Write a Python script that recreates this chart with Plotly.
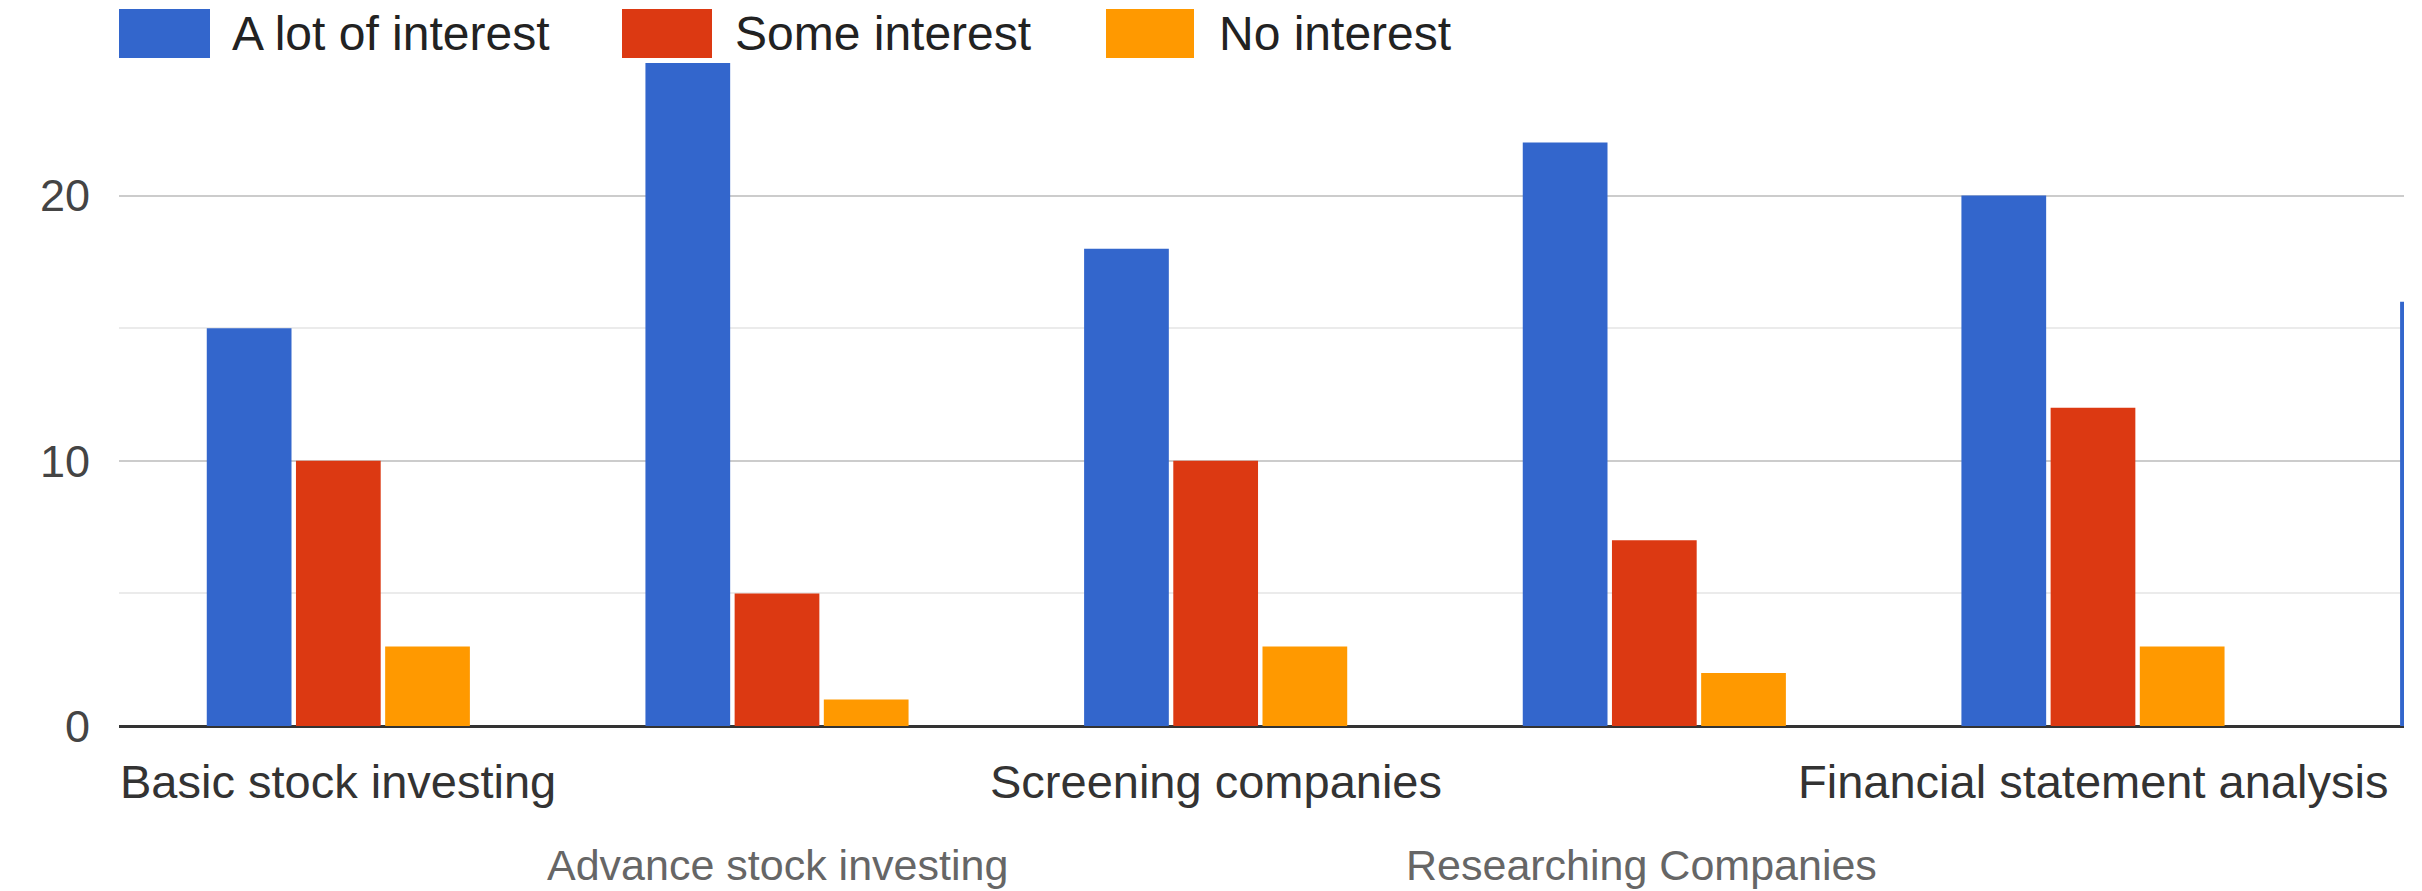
import plotly.graph_objects as go

categories = ["Basic stock investing", "Advance stock investing", "Screening companies",
              "Researching Companies", "Financial statement analysis", "(next topic)"]
a_lot = [15, 25, 18, 22, 20, 16]
some = [10, 5, 10, 7, 12, None]
none_ = [3, 1, 3, 2, 3, None]
series_names = ["A lot of interest", "Some interest", "No interest"]
series_values = [a_lot, some, none_]
colors = ["#3366CC", "#DC3912", "#FF9900"]
y_ticks = [0, 10, 20]

OFF = 8  # default page body margin
W, H = 2422 - OFF, 891 - OFF
# plot area in page pixels
L, R, T, B = 119 - OFF, 2404 - OFF, 63 - OFF, 726 - OFF


def px_x(px):
    return (px - OFF - L) / (R - L)


def px_y(py):
    return (B - (py - OFF)) / (B - T)


fig = go.Figure()
for name, vals, col in zip(series_names, series_values, colors):
    fig.add_trace(go.Bar(x=categories, y=vals, name=name, marker_color=col,
                         marker_line_width=0, showlegend=False))

# custom legend (large swatches), page pixel positions
legend_sq = [(119, 210), (622, 712), (1106, 1194)]
legend_txt_x = [230, 733, 1217]
shapes = []
annotations = []
for (x0, x1), tx, name, col in zip(legend_sq, legend_txt_x, series_names, colors):
    shapes.append(dict(type="rect", xref="paper", yref="paper",
                       x0=px_x(x0), x1=px_x(x1), y0=px_y(58), y1=px_y(9),
                       fillcolor=col, line_width=0))
    annotations.append(dict(text=name, xref="paper", yref="paper", x=px_x(tx), y=px_y(34),
                            xanchor="left", yanchor="middle", showarrow=False,
                            font=dict(family="Liberation Sans, Arial", size=48, color="#222222")))

# staggered category labels
label_xshift = {3: -13}
for i, cat in enumerate(categories[:5]):
    row2 = i % 2 == 1
    annotations.append(dict(text=cat, xref="x", yref="paper", x=cat,
                            xshift=label_xshift.get(i, 0),
                            y=px_y(865 if row2 else 781), xanchor="center", yanchor="middle",
                            showarrow=False,
                            font=dict(family="Liberation Sans, Arial", size=43 if row2 else 47,
                                      color="#666666" if row2 else "#333333")))

fig.update_layout(
    width=W, height=H,
    margin=dict(l=L, r=W - R, t=T, b=H - B, autoexpand=False),
    paper_bgcolor="white", plot_bgcolor="white",
    barmode="group", bargap=0.39, bargroupgap=0.05,
    shapes=shapes, annotations=annotations,
    font=dict(family="Liberation Sans, Arial", size=46, color="#444444"),
)
fig.update_xaxes(type="category", range=[-0.5, 4.709], showticklabels=False,
                 showgrid=False, zeroline=False, showline=False, ticks="")
fig.update_yaxes(range=[0, 25], tickvals=y_ticks, ticktext=[str(v) for v in y_ticks],
                 showgrid=True, gridcolor="#cccccc", gridwidth=2,
                 minor=dict(dtick=5, tick0=0, showgrid=True, gridcolor="#ebebeb", gridwidth=2),
                 zeroline=True, zerolinecolor="#333333", zerolinewidth=3,
                 showline=False, ticks="", ticklabelstandoff=28,
                 tickfont=dict(family="Liberation Sans, Arial", size=45, color="#444444"))

fig.write_html("out.html")
